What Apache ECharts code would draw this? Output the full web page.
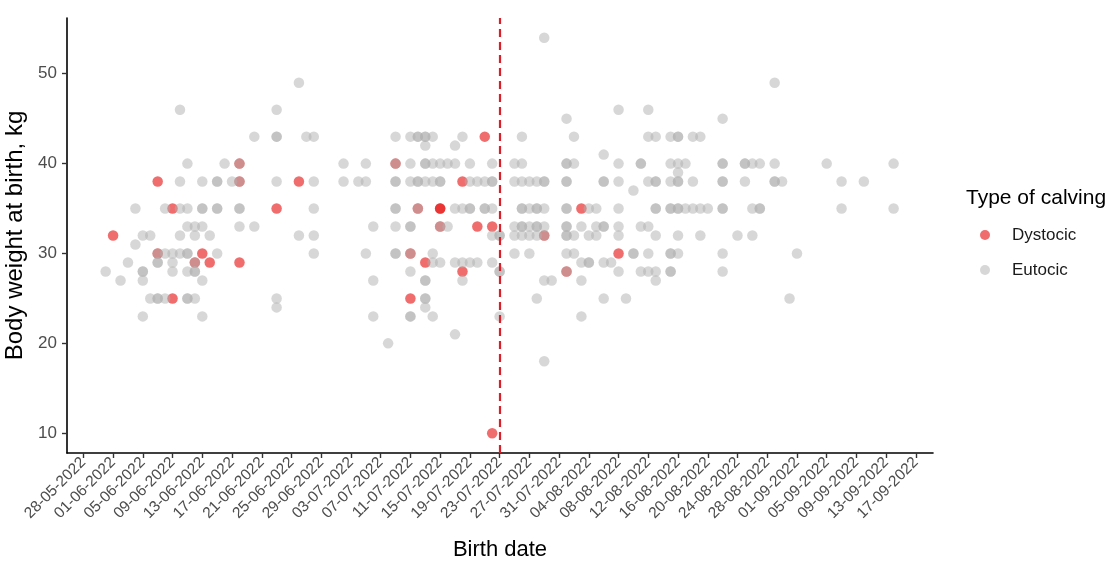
<!DOCTYPE html>
<html>
<head>
<meta charset="utf-8">
<title>Body weight at birth by birth date</title>
<script src="https://cdn.jsdelivr.net/npm/echarts@6/dist/echarts.min.js"></script>
<style>
  html, body { margin: 0; padding: 0; background: #fff; }
  #chart { width: 1116px; height: 564px; }
</style>
</head>
<body>
<div id="chart"></div>
<script>
// tick labels of the date axis (every 4 days)
const xTicks = ['28-05-2022', '01-06-2022', '05-06-2022', '09-06-2022', '13-06-2022', '17-06-2022',
  '21-06-2022', '25-06-2022', '29-06-2022', '03-07-2022', '07-07-2022', '11-07-2022', '15-07-2022',
  '19-07-2022', '23-07-2022', '27-07-2022', '31-07-2022', '04-08-2022', '08-08-2022', '12-08-2022',
  '16-08-2022', '20-08-2022', '24-08-2022', '28-08-2022', '01-09-2022', '05-09-2022', '09-09-2022',
  '13-09-2022', '17-09-2022'];
const yTicks = [10, 20, 30, 40, 50];
const cutoffDate = '2022-07-23';

// birth date -> body weights at birth (kg)
const dystocic = [
  ['2022-06-01', [32]], ['2022-06-07', [38, 30]], ['2022-06-09', [35, 25]], ['2022-06-12', [29]],
  ['2022-06-13', [30]], ['2022-06-14', [29]], ['2022-06-18', [40, 38, 29]], ['2022-06-23', [35]],
  ['2022-06-26', [38]], ['2022-07-09', [40]], ['2022-07-11', [30, 25]], ['2022-07-12', [35]],
  ['2022-07-13', [29]], ['2022-07-15', [35, 35, 33]], ['2022-07-18', [38, 28]], ['2022-07-20', [33]],
  ['2022-07-21', [43]], ['2022-07-22', [33, 10]], ['2022-07-29', [32]], ['2022-08-01', [28]],
  ['2022-08-03', [35]], ['2022-08-08', [30]]
];

const eutocic = [
  ['2022-05-31', [28]], ['2022-06-02', [27]], ['2022-06-03', [29]], ['2022-06-04', [35, 31]],
  ['2022-06-05', [32, 28, 28, 27, 23]], ['2022-06-06', [32, 25]], ['2022-06-07', [30, 29, 29, 25, 25]],
  ['2022-06-08', [35, 30, 25]], ['2022-06-09', [30, 29, 28]], ['2022-06-10', [46, 38, 35, 32, 30]],
  ['2022-06-11', [40, 35, 33, 30, 30, 28, 25, 25]], ['2022-06-12', [33, 32, 29, 28, 28, 25]],
  ['2022-06-13', [38, 35, 35, 33, 27, 23]], ['2022-06-14', [32]], ['2022-06-15', [38, 38, 35, 35, 30]],
  ['2022-06-16', [40]], ['2022-06-17', [38]], ['2022-06-18', [40, 38, 35, 35, 33]], ['2022-06-20', [43, 33]],
  ['2022-06-23', [46, 43, 43, 38, 25, 24]], ['2022-06-26', [49, 32]], ['2022-06-27', [43]],
  ['2022-06-28', [43, 38, 35, 32, 30]], ['2022-07-02', [40, 38]], ['2022-07-04', [38]],
  ['2022-07-05', [40, 38, 30]], ['2022-07-06', [33, 27, 23]], ['2022-07-08', [20]],
  ['2022-07-09', [43, 40, 38, 38, 35, 35, 33, 30, 30]], ['2022-07-11', [43, 40, 38, 33, 33, 30, 28, 23, 23]],
  ['2022-07-12', [43, 43, 38, 38, 35]], ['2022-07-13', [43, 43, 42, 40, 40, 38, 27, 27, 25, 25, 24]],
  ['2022-07-14', [43, 40, 38, 30, 29, 23]], ['2022-07-15', [40, 38, 38, 33, 29]], ['2022-07-16', [40, 33]],
  ['2022-07-17', [42, 40, 35, 29, 21]], ['2022-07-18', [43, 35, 29, 27]], ['2022-07-19', [40, 38, 35, 35, 29]],
  ['2022-07-20', [38, 29]], ['2022-07-21', [38, 35, 35]], ['2022-07-22', [40, 38, 38, 35, 32, 29]],
  ['2022-07-23', [32, 32, 28, 28, 23]], ['2022-07-25', [40, 38, 33, 32, 30]],
  ['2022-07-26', [43, 40, 38, 35, 35, 33, 33, 32]], ['2022-07-27', [38, 35, 33, 32, 30]],
  ['2022-07-28', [38, 35, 35, 33, 33, 32, 25]], ['2022-07-29', [54, 38, 38, 35, 33, 32, 27, 18]],
  ['2022-07-30', [27]], ['2022-08-01', [45, 40, 40, 38, 38, 35, 35, 33, 33, 32, 32, 30, 28]],
  ['2022-08-02', [43, 40, 32, 30]], ['2022-08-03', [33, 29, 27, 23]], ['2022-08-04', [35, 32, 29, 29]],
  ['2022-08-05', [35, 33, 32]], ['2022-08-06', [41, 38, 38, 33, 33, 29, 25]], ['2022-08-07', [29]],
  ['2022-08-08', [46, 40, 38, 35, 33, 32, 28]], ['2022-08-09', [25]], ['2022-08-10', [37, 30, 30]],
  ['2022-08-11', [40, 40, 33, 28]], ['2022-08-12', [46, 43, 38, 33, 30, 28]],
  ['2022-08-13', [43, 38, 38, 35, 35, 32, 28, 27]], ['2022-08-15', [43, 40, 38, 35, 35, 30, 30, 28, 28]],
  ['2022-08-16', [43, 43, 40, 39, 38, 38, 35, 35, 32, 30]], ['2022-08-17', [40, 35]],
  ['2022-08-18', [43, 38, 35]], ['2022-08-19', [43, 35, 32]], ['2022-08-20', [35]],
  ['2022-08-22', [45, 40, 40, 38, 38, 35, 35, 30, 28]], ['2022-08-24', [32]], ['2022-08-25', [40, 40, 38]],
  ['2022-08-26', [40, 35, 32]], ['2022-08-27', [40, 35, 35]], ['2022-08-29', [49, 40, 38, 38]],
  ['2022-08-30', [38]], ['2022-08-31', [25]], ['2022-09-01', [30]], ['2022-09-05', [40]],
  ['2022-09-07', [38, 35]], ['2022-09-10', [38]], ['2022-09-14', [40, 35]]
];

// days since the first tick date
const DAY = 86400000;
const startMs = Date.parse('2022-05-28');
const dayOf = (iso) => (Date.parse(iso) - startMs) / DAY;
const tickIso = (t) => t.split('-').reverse().join('-');
const tickDays = xTicks.map((t) => dayOf(tickIso(t)));

const toPoints = (rows) => {
  const pts = [];
  for (const [d, ws] of rows) {
    for (const w of ws) pts.push([dayOf(d), w]);
  }
  return pts;
};

const FONT = '"Liberation Sans", Arial, sans-serif';
const chart = echarts.init(document.getElementById('chart'));

chart.setOption({
  animation: false,
  textStyle: { fontFamily: FONT },
  grid: { left: 67, right: 183, top: 18, bottom: 111, containLabel: false, outerBoundsMode: 'none' },
  title: {
    text: 'Type of calving',
    left: 966,
    top: 188,
    padding: 0,
    textStyle: { fontFamily: FONT, fontSize: 21, fontWeight: 'normal', color: '#000' }
  },
  legend: {
    data: ['Dystocic', 'Eutocic'],
    orient: 'vertical',
    left: 980,
    top: 225,
    padding: 0,
    icon: 'circle',
    itemWidth: 10,
    itemHeight: 10,
    itemGap: 15,
    textStyle: { fontFamily: FONT, fontSize: 17, color: '#1a1a1a', lineHeight: 20, padding: [0, 0, 0, 17] }
  },
  xAxis: {
    type: 'value',
    min: -2.2,
    max: 114.3,
    name: 'Birth date',
    nameLocation: 'middle',
    nameGap: 86,
    nameTextStyle: { fontFamily: FONT, fontSize: 22, color: '#000' },
    splitLine: { show: false },
    axisLine: { onZero: false, lineStyle: { color: '#000', width: 1.6 } },
    axisTick: { customValues: tickDays, length: 5, lineStyle: { color: '#333', width: 1.4 } },
    axisLabel: {
      customValues: tickDays,
      rotate: 45,
      margin: 7,
      fontSize: 15.5,
      color: '#4d4d4d',
      hideOverlap: false,
      formatter: (v) => xTicks[tickDays.indexOf(Math.round(v))] || ''
    }
  },
  yAxis: {
    type: 'value',
    min: 7.8,
    max: 56.2,
    name: 'Body weight at birth, kg',
    nameLocation: 'middle',
    nameGap: 38,
    nameTextStyle: { fontFamily: FONT, fontSize: 24, color: '#000' },
    splitLine: { show: false },
    axisLine: { show: true, onZero: false, lineStyle: { color: '#000', width: 1.6 } },
    axisTick: { show: true, customValues: yTicks, length: 5, lineStyle: { color: '#333', width: 1.4 } },
    axisLabel: { customValues: yTicks, margin: 10, fontSize: 17, color: '#4d4d4d' }
  },
  series: [
    {
      name: 'Dystocic',
      type: 'scatter',
      symbolSize: 10.5,
      itemStyle: { color: 'rgb(230, 20, 20)', opacity: 0.62 },
      data: toPoints(dystocic)
    },
    {
      name: 'Eutocic',
      type: 'scatter',
      symbolSize: 10.5,
      itemStyle: { color: '#b0b0b0', opacity: 0.5 },
      data: toPoints(eutocic),
      markLine: {
        silent: true,
        symbol: 'none',
        label: { show: false },
        lineStyle: { color: 'rgb(220, 30, 40)', width: 2.2, type: [8, 5], opacity: 1 },
        data: [{ xAxis: dayOf(cutoffDate) }]
      }
    }
  ]
});
</script>
</body>
</html>
